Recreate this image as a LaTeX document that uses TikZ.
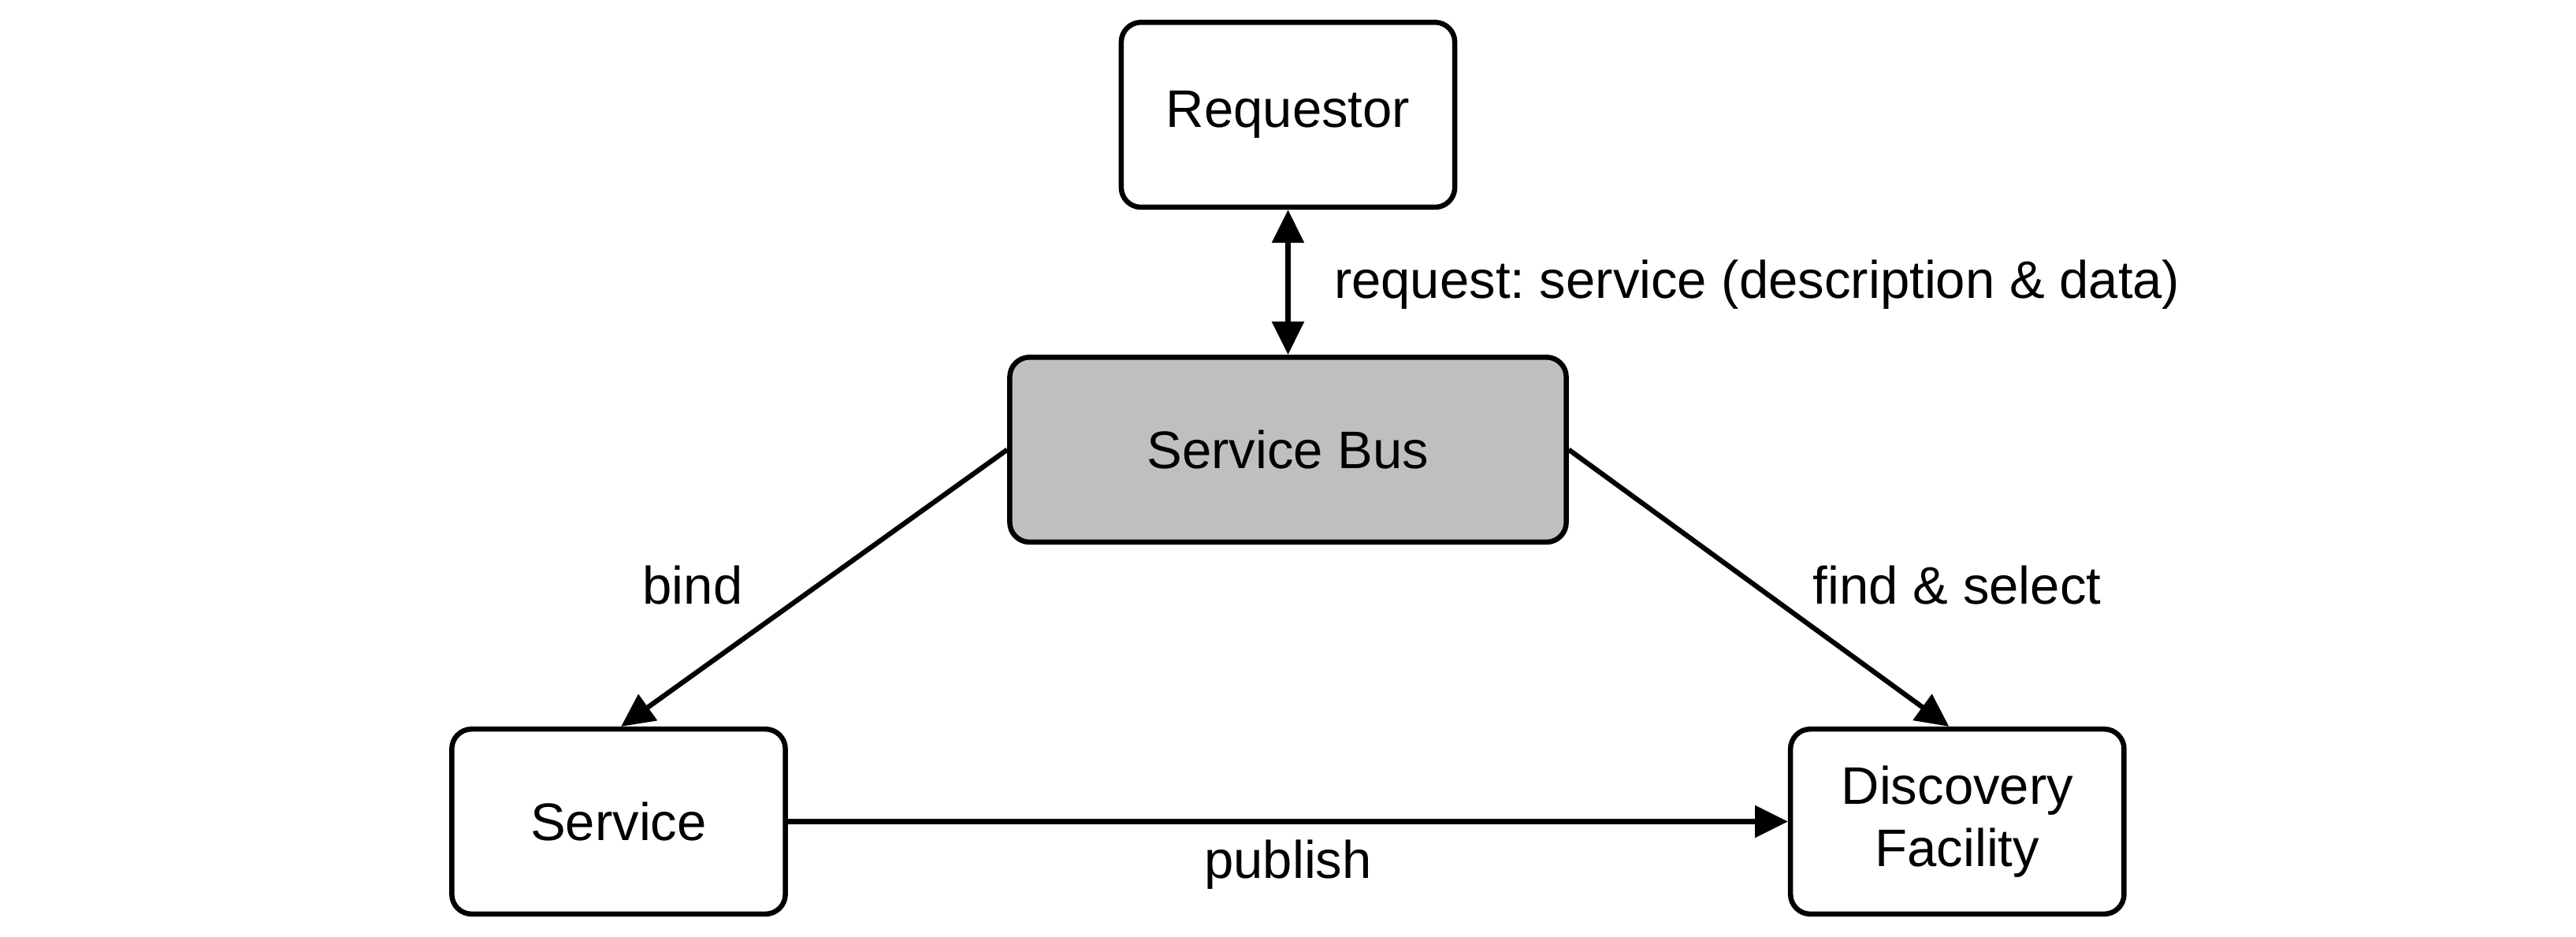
\documentclass[tikz,border=0pt]{standalone}
\usepackage{fontspec}
\setmainfont{Liberation Sans}
\frenchspacing
\usetikzlibrary{arrows.meta}
\definecolor{busgray}{RGB}{191,191,191}

\begin{document}
\begin{tikzpicture}[x=1pt, y=-1pt,
    mybox/.style={draw, line width=3.1pt, rounded corners=12pt, minimum width=202pt, minimum height=112pt, align=center, font=\fontsize{32}{38}\selectfont},
    mybus/.style={mybox, fill=busgray, minimum width=337pt},
    myarrow/.style={line width=3pt, -{Triangle[length=20pt,width=19pt]}},
    mylabel/.style={font=\fontsize{32}{38}\selectfont}]

        % page size of the reference
        \useasboundingbox (0,0) rectangle (1560,567);

        % the four boxes
        \node[mybox] (req) at (780,69.5) {Requestor};
        \node[mybus] (bus) at (780,272.3) {Service Bus};
        \node[mybox] (svc) at (374.6,497.5) {Service};
        \node[mybox] (disc) at (1185.3,497.5) {Discovery\\Facility};

        % connectors
        \draw[myarrow, {Triangle[length=20pt,width=19pt]}-{Triangle[length=20pt,width=19pt]}] (req) -- (bus);
        \draw[myarrow] (bus.west) -- ([xshift=1.5pt]svc.north);
        \draw[myarrow] (bus.east) -- ([xshift=-5pt]disc.north);
        \draw[myarrow] (svc) -- (disc);

        % labels
        \node[mylabel, anchor=base west] (reqlbl) at (804.4,180.5) {request: service (description \& data)};
        \node[mylabel, anchor=base] (bindlbl) at (419.5,366) {bind};
        \node[mylabel, anchor=base] (findlbl) at (1185.2,366) {find \& select};
        \node[mylabel, anchor=base] (publbl) at (780,532) {publish};

\end{tikzpicture}
\end{document}
